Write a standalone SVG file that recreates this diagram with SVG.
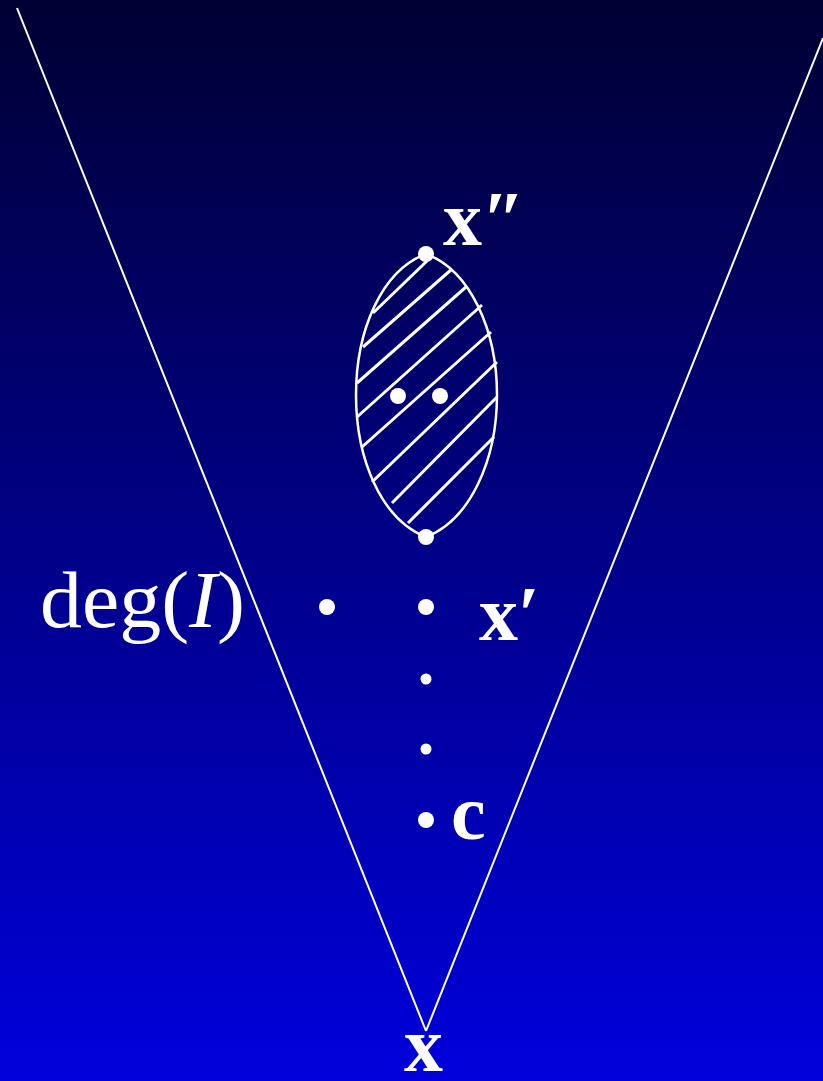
<svg xmlns="http://www.w3.org/2000/svg" width="823" height="1081" viewBox="0 0 823 1081">
  <defs>
    <linearGradient id="bg" x1="0" y1="0" x2="0" y2="1">
      <stop offset="0" stop-color="#000033"/>
      <stop offset="1" stop-color="#0000DC"/>
    </linearGradient>
  </defs>
  <style>
    .ln { stroke: #FFFFFF; stroke-width: 2; fill: none; }
    .ell { stroke: #FFFFFF; stroke-width: 2.5; fill: none; }
    .hatch { stroke: #FFFFFF; stroke-width: 3; fill: none; }
    .dot { fill: #FFFFFF; }
    .lbl { fill: #FFFFFF; font-family: "Liberation Serif", "DejaVu Serif", serif; }
    .b { font-weight: bold; }
  </style>
  <rect x="0" y="0" width="823" height="1081" fill="url(#bg)"/>
  <g id="connectors">
    <line class="ln" x1="17" y1="8" x2="426" y2="1031"/>
    <line class="ln" x1="426" y1="1031" x2="823" y2="38"/>
  </g>
  <g id="region">
    <path class="ell" d="M426,254 C470,270 497,330 497,395 C497,460 470,520 426,537 C382,520 356,460 356,395 C356,330 382,270 426,254 Z"/>
    <line class="hatch" x1="373" y1="313" x2="427" y2="261"/>
    <line class="hatch" x1="363" y1="347" x2="452" y2="269"/>
    <line class="hatch" x1="357" y1="383" x2="466" y2="287"/>
    <line class="hatch" x1="357" y1="417" x2="482" y2="305"/>
    <line class="hatch" x1="362" y1="447" x2="491" y2="332"/>
    <line class="hatch" x1="372" y1="482" x2="497" y2="362"/>
    <line class="hatch" x1="392" y1="503" x2="497" y2="397"/>
    <line class="hatch" x1="408" y1="523" x2="494" y2="437"/>
  </g>
  <g id="dots">
    <circle class="dot" cx="426" cy="254" r="8"/>
    <circle class="dot" cx="426" cy="537" r="8"/>
    <circle class="dot" cx="398" cy="396" r="8"/>
    <circle class="dot" cx="440" cy="396" r="8"/>
    <circle class="dot" cx="327" cy="607" r="8"/>
    <circle class="dot" cx="426" cy="607" r="8"/>
    <circle class="dot" cx="426" cy="679" r="5.5"/>
    <circle class="dot" cx="426" cy="749" r="5.5"/>
    <circle class="dot" cx="426" cy="820" r="8"/>
  </g>
  <g id="labels">
    <text class="lbl b" x="443" y="245" font-size="78">x″</text>
    <text class="lbl" x="40" y="627" font-size="80" textLength="205" lengthAdjust="spacingAndGlyphs">deg(<tspan font-style="italic">I</tspan>)</text>
    <text class="lbl b" x="479" y="640" font-size="78">x′</text>
    <text class="lbl b" x="451" y="839" font-size="78">c</text>
    <text class="lbl b" x="404" y="1071" font-size="78">x</text>
  </g>
</svg>
